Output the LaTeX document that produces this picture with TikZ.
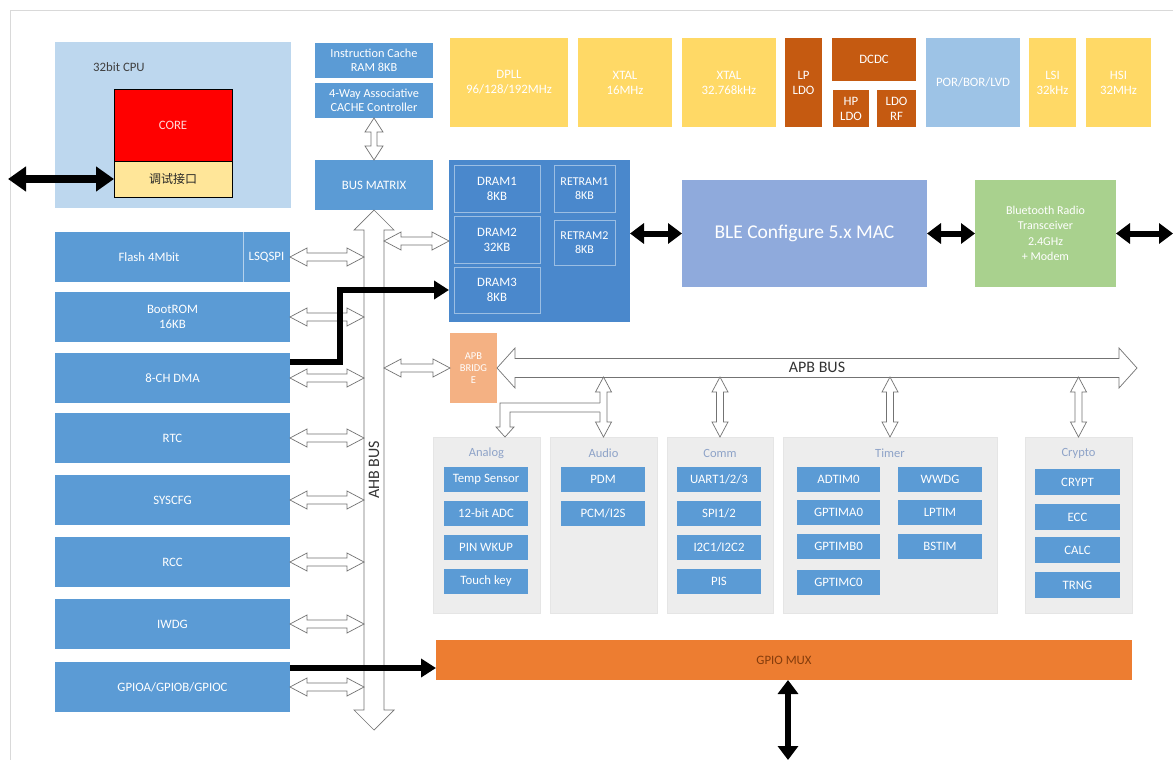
\documentclass[tikz,border=0pt]{standalone}
\usepackage{fontspec}
\setmainfont{Carlito}
\newfontfamily\cjkfont{Noto Sans CJK SC}
\usetikzlibrary{arrows.meta,calc}
\definecolor{cblue}{HTML}{5B9BD5}
\definecolor{cmem}{HTML}{4A88CC}
\definecolor{cyel}{HTML}{FFD966}
\definecolor{cdor}{HTML}{C55A11}
\definecolor{cpor}{HTML}{9DC3E6}
\definecolor{ccpu}{HTML}{BDD7EE}
\definecolor{cdbg}{HTML}{FFE699}
\definecolor{cble}{HTML}{8FAADC}
\definecolor{cbt}{HTML}{A9D18E}
\definecolor{capb}{HTML}{F4B183}
\definecolor{cgrp}{HTML}{EDEDED}
\definecolor{cgmux}{HTML}{ED7D31}
\definecolor{cgtxt}{HTML}{8EA3C8}
\definecolor{cmuxtxt}{HTML}{843C0C}
\newcommand\bx[7]{\node[#1, anchor=north west, minimum width={(#4)-(#2)}, minimum height={(#5)-(#3)}] (#6) at (#2,#3) {#7};}
\newcommand\hollowH[5]{\draw[hollow] let \p1=#1, \p2=#2 in (\x1,\y1) -- (\x1+#3pt,\y1+#4pt) -- (\x1+#3pt,\y1+#5pt) -- (\x2-#3pt,\y1+#5pt) -- (\x2-#3pt,\y1+#4pt) -- (\x2,\y1) -- (\x2-#3pt,\y1-#4pt) -- (\x2-#3pt,\y1-#5pt) -- (\x1+#3pt,\y1-#5pt) -- (\x1+#3pt,\y1-#4pt) -- cycle;}
\newcommand\hollowV[5]{\draw[hollow] let \p1=#1, \p2=#2 in (\x1,\y1) -- (\x1+#4pt,\y1-#3pt) -- (\x1+#5pt,\y1-#3pt) -- (\x1+#5pt,\y2+#3pt) -- (\x1+#4pt,\y2+#3pt) -- (\x1,\y2) -- (\x1-#4pt,\y2+#3pt) -- (\x1-#5pt,\y2+#3pt) -- (\x1-#5pt,\y1-#3pt) -- (\x1-#4pt,\y1-#3pt) -- cycle;}
\tikzset{
  bxs/.style={inner sep=0pt, outer sep=0pt, align=center, text=white, font=\fontsize{12.8}{15}\selectfont},
  lblue/.style={bxs, fill=cblue},
  yel/.style={bxs, fill=cyel},
  dor/.style={bxs, fill=cdor},
  memin/.style={bxs, draw=white!45!cmem, line width=0.6pt},
  grp/.style={bxs, fill=cgrp, draw=black!10, line width=0.5pt},
  gtitle/.style={text=cgtxt, font=\fontsize{12.5}{14}\selectfont, inner sep=0pt},
  hollow/.style={draw=black!55, fill=white, line width=0.7pt, line join=miter},
  blk/.style={line width=6pt, {Triangle[length=14pt,width=20pt]}-{Triangle[length=14pt,width=20pt]}},
  blkbig/.style={line width=8pt, {Triangle[length=18pt,width=24pt]}-{Triangle[length=18pt,width=24pt]}},
  blkone/.style={line width=6pt, -{Triangle[length=15pt,width=18pt]}},
  buslbl/.style={text=black!80, font=\fontsize{16}{16}\selectfont, inner sep=0pt}
}
\begin{document}
\begin{tikzpicture}[x=1pt,y=-1pt]
\useasboundingbox (0,0) rectangle (1173,760);
\fill[white] (0,0) rectangle (1173,760);
\draw[black!15, line width=0.8pt] (10,760) -- (10,10) -- (1173,10);
% CPU
\bx{bxs, fill=ccpu}{55}{42}{291}{208}{cpu}{}
\node[anchor=west, text=black!75, font=\fontsize{12.8}{15}\selectfont, inner sep=0pt] (cpulbl) at (93,67) {32bit CPU};
\bx{bxs, fill=red, draw=black, line width=0.5pt, text=white!85!red}{114}{89}{232}{161}{core}{CORE}
\bx{bxs, fill=cdbg, draw=black, line width=0.5pt, text=black!85, font=\cjkfont\fontsize{12}{14}\selectfont}{114}{161}{232}{197}{dbg}{调试接口}
\coordinate (extdbg) at (8,179);
\draw[blkbig] (extdbg) -- (dbg.west);
% cache / bus matrix
\bx{lblue, font=\fontsize{12.3}{14}\selectfont}{315}{43}{433}{78}{icache}{Instruction Cache\\RAM 8KB}
\bx{lblue, font=\fontsize{12.3}{14}\selectfont}{315}{83}{433}{118}{cachectl}{4-Way Associative\\CACHE Controller}
\bx{lblue}{315}{160}{433}{210}{busmx}{BUS MATRIX}
\hollowV{(cachectl.south)}{(busmx.north)}{14}{9}{3}
% top row
\bx{yel}{450}{38}{568}{127}{dpll}{DPLL\\96/128/192MHz}
\bx{yel}{578}{38}{672}{127}{xtala}{XTAL\\16MHz}
\bx{yel}{682}{38}{776}{127}{xtalb}{XTAL\\32.768kHz}
\bx{dor}{785}{38}{822}{127}{lpldo}{LP\\LDO}
\bx{dor}{832}{38}{916}{81}{dcdc}{DCDC}
\bx{dor}{833}{90}{869}{127}{hpldo}{HP\\LDO}
\bx{dor}{877}{90}{916}{127}{ldorf}{LDO\\RF}
\bx{bxs, fill=cpor}{926}{38}{1020}{127}{por}{POR/BOR/LVD}
\bx{yel}{1029}{38}{1076}{127}{lsi}{LSI\\32kHz}
\bx{yel}{1086}{38}{1151}{127}{hsi}{HSI\\32MHz}
% memory
\bx{bxs, fill=cmem}{449}{160}{630}{322}{mem}{}
\bx{memin}{454}{165}{540}{212}{dram1}{DRAM1\\8KB}
\bx{memin}{454}{216}{540}{263}{dram2}{DRAM2\\32KB}
\bx{memin}{454}{267}{540}{313}{dram3}{DRAM3\\8KB}
\bx{memin, font=\fontsize{12}{14}\selectfont}{554}{165}{615}{212}{ret1}{RETRAM1\\8KB}
\bx{memin, font=\fontsize{12}{14}\selectfont}{554}{220}{615}{265}{ret2}{RETRAM2\\8KB}
% BLE / radio
\bx{bxs, fill=cble, font=\fontsize{19.5}{22}\selectfont}{682}{180}{927}{287}{ble}{BLE Configure 5.x MAC}
\bx{bxs, fill=cbt, font=\fontsize{12}{15.5}\selectfont}{975}{180}{1116}{287}{bt}{Bluetooth Radio\\Transceiver\\2.4GHz\\+ Modem}
\coordinate (extbt) at (1173,233.5);
\draw[blk] (ble.west -| mem.east) -- (ble.west);
\draw[blk] (ble.east) -- (bt.west);
\draw[blk] (bt.east) -- (extbt);
% left column
\bx{lblue}{55}{232}{243}{282}{flash}{Flash 4Mbit}
\bx{lblue}{243}{232}{290}{282}{lsqspi}{LSQSPI}
\draw[white!55!cblue, line width=0.8pt] (lsqspi.north west) -- (lsqspi.south west);
\bx{lblue}{55}{292}{290}{342}{boot}{BootROM\\16KB}
\bx{lblue}{55}{353}{290}{403}{dma}{8-CH DMA}
\bx{lblue}{55}{413}{290}{463}{rtc}{RTC}
\bx{lblue}{55}{475}{290}{525}{syscfg}{SYSCFG}
\bx{lblue}{55}{537}{290}{587}{rcc}{RCC}
\bx{lblue}{55}{599}{290}{649}{iwdg}{IWDG}
\bx{lblue}{55}{662}{290}{712}{gpio}{GPIOA/GPIOB/GPIOC}
% AHB bus
\coordinate (ahbbot) at (374,730);
\coordinate (ahbL) at (364,0);
\coordinate (ahbR) at (384,0);
\hollowV{(busmx.south)}{(ahbbot)}{20}{20}{10}
\node[buslbl, rotate=90] (ahbtxt) at (374,470) {AHB BUS};
\hollowH{(lsqspi.east)}{(lsqspi.east -| ahbL)}{17}{9}{4}
\hollowH{(boot.east)}{(boot.east -| ahbL)}{17}{9}{4}
\hollowH{(dma.east)}{(dma.east -| ahbL)}{17}{9}{4}
\hollowH{(rtc.east)}{(rtc.east -| ahbL)}{17}{9}{4}
\hollowH{(syscfg.east)}{(syscfg.east -| ahbL)}{17}{9}{4}
\hollowH{(rcc.east)}{(rcc.east -| ahbL)}{17}{9}{4}
\hollowH{(iwdg.east)}{(iwdg.east -| ahbL)}{17}{9}{4}
\hollowH{(gpio.east)}{(gpio.east -| ahbL)}{17}{9}{4}
% APB bridge and bus
\bx{bxs, fill=capb, font=\fontsize{10.5}{12}\selectfont}{450}{333}{497}{403}{apbb}{APB\\BRIDG\\E}
\hollowH{(mem.west -| ahbR)}{(mem.west)}{17}{9}{4}
\hollowH{(apbb.west -| ahbR)}{(apbb.west)}{17}{9}{4}
\coordinate (apbend) at (1137,368);
\hollowH{(apbb.east)}{(apbend)}{18}{20}{9.5}
\node[buslbl] (apbtxt) at (817,367) {APB BUS};
% black data paths
\coordinate (dmaturn) at (340,290);
\draw[blkone] ([yshift=16pt]dma.east) -| (dmaturn) -- (dmaturn -| mem.west);
% groups
\bx{grp}{433}{437}{540}{613}{analog}{}
\bx{grp}{550}{437}{657}{613}{audio}{}
\bx{grp}{667}{437}{773}{613}{comm}{}
\bx{grp}{783}{437}{997}{613}{timer}{}
\bx{grp}{1025}{437}{1132}{613}{crypto}{}
\node[gtitle] (tanalog) at ([yshift=-16pt]analog.north) {Analog};
\node[gtitle] (taudio) at ([yshift=-16pt]audio.north) {Audio};
\node[gtitle] (tcomm) at ([yshift=-16pt]comm.north) {Comm};
\node[gtitle] (ttimer) at ([yshift=-16pt]timer.north) {Timer};
\node[gtitle] (tcrypto) at ([yshift=-16pt]crypto.north) {Crypto};
% analog
\bx{lblue}{444}{467}{528}{492}{tsens}{Temp Sensor}
\bx{lblue}{444}{501}{528}{526}{adc}{12-bit ADC}
\bx{lblue}{444}{535}{528}{560}{pinw}{PIN WKUP}
\bx{lblue}{444}{569}{528}{594}{touch}{Touch key}
% audio
\bx{lblue}{561}{467}{645}{492}{pdm}{PDM}
\bx{lblue}{561}{501}{645}{526}{pcm}{PCM/I2S}
% comm
\bx{lblue}{677}{467}{761}{492}{uart}{UART1/2/3}
\bx{lblue}{677}{501}{761}{526}{spi}{SPI1/2}
\bx{lblue}{677}{535}{761}{560}{iic}{I2C1/I2C2}
\bx{lblue}{677}{569}{761}{594}{pis}{PIS}
% timer
\bx{lblue}{797}{467}{880}{492}{adtim}{ADTIM0}
\bx{lblue}{797}{500}{880}{525}{gpta}{GPTIMA0}
\bx{lblue}{797}{534}{880}{559}{gptb}{GPTIMB0}
\bx{lblue}{797}{570}{880}{595}{gptc}{GPTIMC0}
\bx{lblue}{898}{467}{982}{492}{wwdg}{WWDG}
\bx{lblue}{898}{500}{982}{525}{lptim}{LPTIM}
\bx{lblue}{898}{534}{982}{559}{bstim}{BSTIM}
% crypto
\bx{lblue}{1035}{469}{1120}{495}{crypt}{CRYPT}
\bx{lblue}{1035}{504}{1120}{530}{ecc}{ECC}
\bx{lblue}{1035}{537}{1120}{563}{calcu}{CALC}
\bx{lblue}{1035}{572}{1120}{598}{trng}{TRNG}
% APB drops
\coordinate (apbsb) at (0,377);
\hollowV{(audio.north |- apbsb)}{(audio.north)}{15}{8}{3.5}
\hollowV{(comm.north |- apbsb)}{(comm.north)}{15}{8}{3.5}
\hollowV{(timer.north |- apbsb)}{(timer.north)}{15}{8}{3.5}
\hollowV{(crypto.north |- apbsb)}{(crypto.north)}{15}{8}{3.5}
\coordinate (ltip) at ([xshift=18.5pt]analog.north);
\fill[white] (ltip) -- (514,427) -- (510,427) -- (510,412) -- (601.5,412) -- (601.5,403) -- (500,403) -- (500,427) -- (496,427) -- cycle;
\draw[hollow, fill=none] (600,403) -- (500,403) -- (500,427) -- (496,427) -- (ltip) -- (514,427) -- (510,427) -- (510,412) -- (600,412);
% GPIO MUX
\bx{bxs, fill=cgmux, text=cmuxtxt}{436}{640}{1132}{680}{gmux}{GPIO MUX}
\draw[blkone, line width=5.5pt] ([yshift=19pt]gpio.east) -- ([yshift=19pt]gpio.east -| gmux.west);
\coordinate (extmux) at (788,760);
\draw[blk] (gmux.south -| extmux) -- (extmux);
\end{tikzpicture}
\end{document}
